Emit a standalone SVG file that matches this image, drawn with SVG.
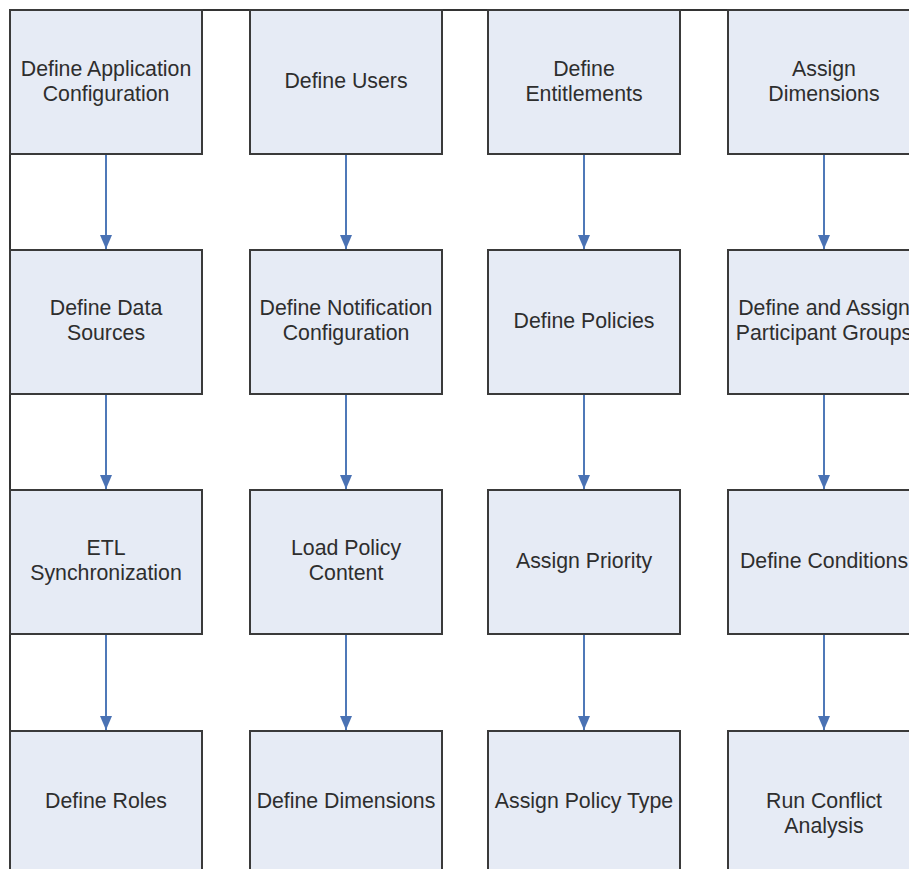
<svg xmlns="http://www.w3.org/2000/svg" width="909" height="869" viewBox="0 0 909 869">
<defs>
<style>
.box{fill:#e6ebf5;stroke:#3a3a3a;stroke-width:2}
.lbl{font-family:"Liberation Sans",Arial,sans-serif;font-size:21.3px;fill:#2e2e2e;text-anchor:middle}
.conn{stroke:#4f79b8;stroke-width:2;fill:none;marker-end:url(#ah)}
.frame{stroke:#333;stroke-width:2;fill:none}
</style>
<marker id="ah" markerWidth="14" markerHeight="12" refX="14" refY="6" orient="auto" markerUnits="userSpaceOnUse" viewBox="0 0 14 12">
<path d="M0,0 L14,6 L0,12 Z" fill="#4a72b4"/>
</marker>
</defs>
<rect width="909" height="869" fill="#fff"/>
<path class="frame" d="M10,869 V10 H909"/>
<g id="connectors">
<line class="conn" x1="106" y1="155" x2="106" y2="249"/>
<line class="conn" x1="346" y1="155" x2="346" y2="249"/>
<line class="conn" x1="584" y1="155" x2="584" y2="249"/>
<line class="conn" x1="824" y1="155" x2="824" y2="249"/>
<line class="conn" x1="106" y1="395" x2="106" y2="489"/>
<line class="conn" x1="346" y1="395" x2="346" y2="489"/>
<line class="conn" x1="584" y1="395" x2="584" y2="489"/>
<line class="conn" x1="824" y1="395" x2="824" y2="489"/>
<line class="conn" x1="106" y1="635" x2="106" y2="730"/>
<line class="conn" x1="346" y1="635" x2="346" y2="730"/>
<line class="conn" x1="584" y1="635" x2="584" y2="730"/>
<line class="conn" x1="824" y1="635" x2="824" y2="730"/>
</g>
<g id="n1"><rect class="box" x="10" y="10" width="192" height="144"/><text class="lbl" x="106" y="76">Define Application</text><text class="lbl" x="106" y="101">Configuration</text></g>
<g id="n2"><rect class="box" x="250" y="10" width="192" height="144"/><text class="lbl" x="346" y="88">Define Users</text></g>
<g id="n3"><rect class="box" x="488" y="10" width="192" height="144"/><text class="lbl" x="584" y="76">Define</text><text class="lbl" x="584" y="101">Entitlements</text></g>
<g id="n4"><rect class="box" x="728" y="10" width="192" height="144"/><text class="lbl" x="824" y="76">Assign</text><text class="lbl" x="824" y="101">Dimensions</text></g>
<g id="n5"><rect class="box" x="10" y="250" width="192" height="144"/><text class="lbl" x="106" y="315">Define Data</text><text class="lbl" x="106" y="340">Sources</text></g>
<g id="n6"><rect class="box" x="250" y="250" width="192" height="144"/><text class="lbl" x="346" y="315">Define Notification</text><text class="lbl" x="346" y="340">Configuration</text></g>
<g id="n7"><rect class="box" x="488" y="250" width="192" height="144"/><text class="lbl" x="584" y="328">Define Policies</text></g>
<g id="n8"><rect class="box" x="728" y="250" width="192" height="144"/><text class="lbl" x="824" y="315">Define and Assign</text><text class="lbl" x="824" y="340">Participant Groups</text></g>
<g id="n9"><rect class="box" x="10" y="490" width="192" height="144"/><text class="lbl" x="106" y="555">ETL</text><text class="lbl" x="106" y="580">Synchronization</text></g>
<g id="n10"><rect class="box" x="250" y="490" width="192" height="144"/><text class="lbl" x="346" y="555">Load Policy</text><text class="lbl" x="346" y="580">Content</text></g>
<g id="n11"><rect class="box" x="488" y="490" width="192" height="144"/><text class="lbl" x="584" y="568">Assign Priority</text></g>
<g id="n12"><rect class="box" x="728" y="490" width="192" height="144"/><text class="lbl" x="824" y="568">Define Conditions</text></g>
<g id="n13"><rect class="box" x="10" y="731" width="192" height="144"/><text class="lbl" x="106" y="808">Define Roles</text></g>
<g id="n14"><rect class="box" x="250" y="731" width="192" height="144"/><text class="lbl" x="346" y="808">Define Dimensions</text></g>
<g id="n15"><rect class="box" x="488" y="731" width="192" height="144"/><text class="lbl" x="584" y="808">Assign Policy Type</text></g>
<g id="n16"><rect class="box" x="728" y="731" width="192" height="144"/><text class="lbl" x="824" y="808">Run Conflict</text><text class="lbl" x="824" y="833">Analysis</text></g>
</svg>
